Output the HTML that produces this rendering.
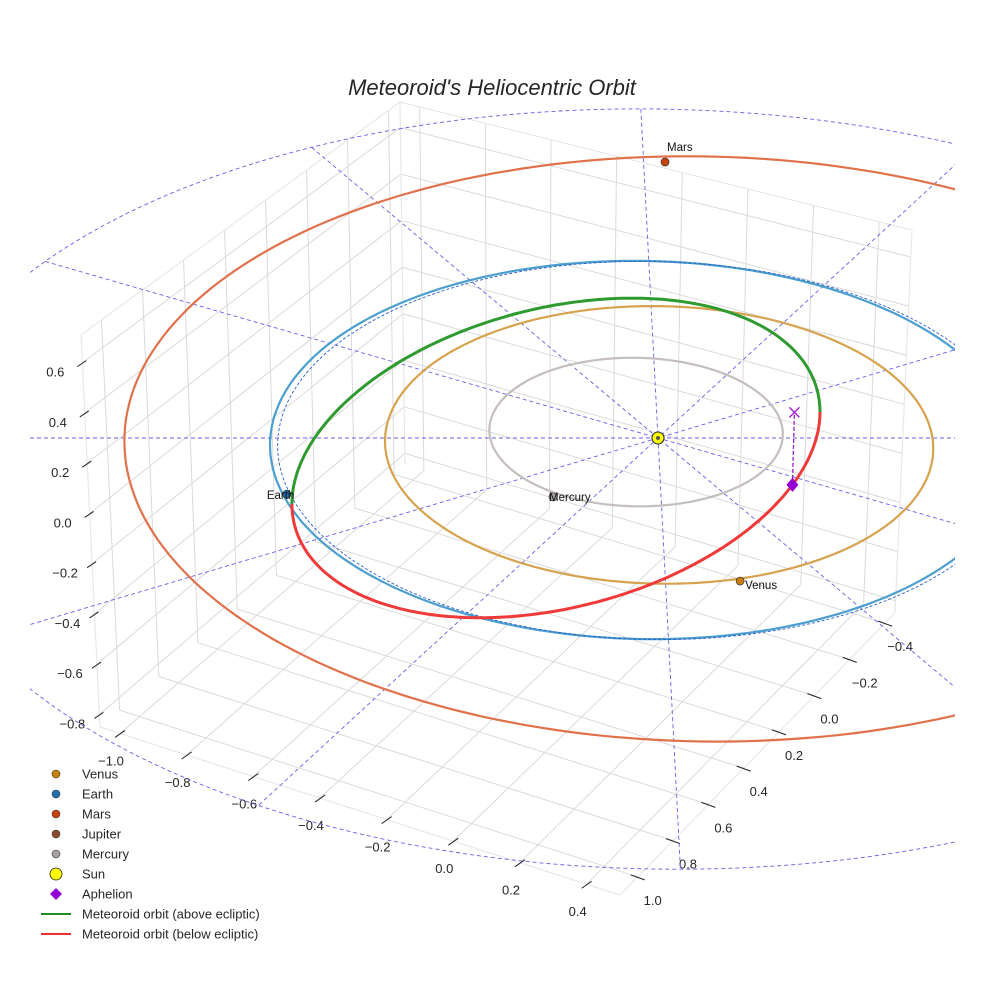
<!DOCTYPE html>
<html><head><meta charset="utf-8">
<style>
html,body{margin:0;padding:0;background:#fff;}
svg{display:block;font-family:"Liberation Sans",sans-serif;}
</style></head>
<body>
<svg id="chart" width="984" height="984" viewBox="0 0 984 984" xmlns="http://www.w3.org/2000/svg">
<defs>
<clipPath id="plotclip"><rect x="30" y="0" width="925" height="984"/></clipPath>
</defs>
<text x="492" y="95" text-anchor="middle" font-size="22" font-style="italic" fill="#262626">Meteoroid's Heliocentric Orbit</text>
<g id="grid"></g>
<g id="ticks"></g>
<g id="orbits" clip-path="url(#plotclip)"></g>
<g id="legend"></g>
</svg>
<script>
// ---- axis data ----
const xTicks = [-1.0, -0.8, -0.6, -0.4, -0.2, 0.0, 0.2, 0.4];
const yTicks = [-0.4, -0.2, 0.0, 0.2, 0.4, 0.6, 0.8, 1.0];
const zTicks = [-0.8, -0.6, -0.4, -0.2, 0.0, 0.2, 0.4, 0.6];
const xRange = [-1.06, 0.50];
const yRange = [-0.456, 1.10];
const zRange = [-0.85, 0.71];
// ---- orbit data (AU, ecliptic plane) ----
const orbitNames = ["Mercury", "Venus", "Earth", "Mars"];
const orbitRadius = [0.387, 0.723, 0.985, 1.524];
const orbitCenterX = [-0.057, 0.002, -0.04, 0.115];
const orbitCenterY = [0.031, -0.036, -0.0625, -0.057];
const orbitColors = ["#c4bebd", "#d6a24e", "#4b9fce", "#e0714b"];
const planetNames = ["Mars", "Earth", "Venus", "Mercury"];
const planetX = [0.0565, -0.987, 0.197, -0.285];
const planetY = [1.4375, -0.292, -0.745, -0.307];
const planetColors = ["#c8420e", "#1f6fb0", "#c97e0d", "#a8a09e"];
const refCircle = [-0.02, -0.065, 0.985];   // cx, cy, r
const outerCircle = [-0.007, -0.266, 1.98];
const radialAngles = [0, 30, 60, 90, 120, 150];
// meteoroid orbit: center, conjugate semi-axis vectors
const meteorCenter = [-0.272, -0.104];
const meteorU = [0.703, 0.2396];
const meteorV = [-0.021, -0.797];
const aphelionE = [0.461];
const aphelionZ = [-0.29];

const svg = document.getElementById('chart');
const NS = 'http://www.w3.org/2000/svg';
function mk(parent, tag, attrs){const e=document.createElementNS(NS,tag);for(const k in attrs)e.setAttribute(k,attrs[k]);parent.appendChild(e);return e;}

// ---- 3D box projection (trilinear between screen corners) ----
const C = {"000":[405,465],"100":[895,613],"010":[100,727],"110":[620,895],
           "001":[400,102],"101":[912,230],"011":[81,335],"111":[625,485]};
function P3(x,y,z){
  const u=(x-xRange[0])/(xRange[1]-xRange[0]), v=(y-yRange[0])/(yRange[1]-yRange[0]), w=(z-zRange[0])/(zRange[1]-zRange[0]);
  let X=0,Y=0;
  for(const i of [0,1])for(const j of [0,1])for(const k of [0,1]){
    const wt=(i?u:1-u)*(j?v:1-v)*(k?w:1-w); const c=C[""+i+j+k]; X+=wt*c[0]; Y+=wt*c[1];}
  return [X,Y];
}
// ---- ecliptic projection ----
function ex(x,y){return 658+379*x-10*y;}
function ey(x,y){return 438-192*y;}

const grid=document.getElementById('grid');
function gline(a,b,col,w){const l=mk(grid,'line',{x1:a[0],y1:a[1],x2:b[0],y2:b[1],stroke:col,'stroke-width':w});return l;}
const GC="#dadada";
for(const y of yTicks){const l=gline(P3(xRange[0],y,zRange[0]),P3(xRange[0],y,zRange[1]),GC,1);


const f=gline(P3(xRange[0],y,zRange[0]),P3(xRange[1],y,zRange[0]),GC,1);

}
for(const x of xTicks){const l=gline(P3(x,yRange[0],zRange[0]),P3(x,yRange[0],zRange[1]),GC,1);


const f=gline(P3(x,yRange[0],zRange[0]),P3(x,yRange[1],zRange[0]),GC,1);

}
for(const z of zTicks){const l=gline(P3(xRange[0],yRange[1],z),P3(xRange[0],yRange[0],z),GC,1);


const b=gline(P3(xRange[0],yRange[0],z),P3(xRange[1],yRange[0],z),GC,1);

}
const edges=[[[0,1,1],[0,0,1]],[[0,0,1],[1,0,1]],[[0,1,0],[0,1,1]],[[1,0,0],[1,0,1]],[[0,0,0],[0,0,1]],[[0,1,0],[1,1,0]],[[1,0,0],[1,1,0]]];
for(const e of edges){const f=c=>P3(xRange[c[0]],yRange[c[1]],zRange[c[2]]);
const l=gline(f(e[0]),f(e[1]),"#e8e8e8",1.2);

}

// ---- ticks ----
const tg=document.getElementById('ticks');
function fmt(v){return (v<0?"\u2212":"")+Math.abs(v).toFixed(1);}
for(const x of xTicks){const p=P3(x,yRange[1],zRange[0]);
const t=mk(tg,'line',{x1:p[0]-5,y1:p[1]+4,x2:p[0]+5,y2:p[1]-3,stroke:"#222","stroke-width":1});


const lb=mk(tg,'text',{x:p[0]-9,y:p[1]+32,"text-anchor":"middle","font-size":13,fill:"#262626"});lb.textContent=fmt(x);

}
for(const y of yTicks){const p=P3(xRange[1],y,zRange[0]);
const t=mk(tg,'line',{x1:p[0]-7,y1:p[1]-2,x2:p[0]+7,y2:p[1]+3,stroke:"#222","stroke-width":1});


const lb=mk(tg,'text',{x:p[0]+15,y:p[1]+28,"text-anchor":"middle","font-size":13,fill:"#262626"});lb.textContent=fmt(y);

}
for(const z of zTicks){const p=P3(xRange[0],yRange[1],z);
const t=mk(tg,'line',{x1:p[0]-5,y1:p[1]+4,x2:p[0]+4,y2:p[1]-2,stroke:"#222","stroke-width":1});


const lb=mk(tg,'text',{x:p[0]-27,y:p[1]+14,"text-anchor":"middle","font-size":13,fill:"#262626"});lb.textContent=fmt(z);

}

// ---- orbits ----
const og=document.getElementById('orbits');
function circlePath(cx,cy,r,t0,t1,n){let d="";for(let i=0;i<=n;i++){const t=t0+(t1-t0)*i/n;const x=cx+r*Math.cos(t),y=cy+r*Math.sin(t);d+=(i?"L":"M")+ex(x,y).toFixed(1)+","+ey(x,y).toFixed(1);}return d;}
const oc=mk(og,'path',{d:circlePath(outerCircle[0],outerCircle[1],outerCircle[2],0,2*Math.PI,240),fill:"none",stroke:"#6a5ee8","stroke-width":0.9,"stroke-dasharray":"4,3"});


for(const a of radialAngles){const c=Math.cos(a*Math.PI/180),s=Math.sin(a*Math.PI/180);
 const pts=[];for(const sg of [1,-1]){const dx=sg*c,dy=sg*s;const ox=-outerCircle[0],oy=-outerCircle[1],R=outerCircle[2];
 const b=2*(ox*dx+oy*dy),cc=ox*ox+oy*oy-R*R;const t=(-b+Math.sqrt(b*b-4*cc))/2;pts.push([t*dx,t*dy]);}
 const l=mk(og,'line',{x1:ex(pts[0][0],pts[0][1]),y1:ey(pts[0][0],pts[0][1]),x2:ex(pts[1][0],pts[1][1]),y2:ey(pts[1][0],pts[1][1]),stroke:"#6a5ee8","stroke-width":0.9,"stroke-dasharray":"4,3"});
 
 }
for(let i=0;i<orbitNames.length;i++){
 const p=mk(og,'path',{d:circlePath(orbitCenterX[i],orbitCenterY[i],orbitRadius[i],0,2*Math.PI,240),fill:"none",stroke:orbitColors[i],"stroke-width":2.2});
 
 }
const rc=mk(og,'path',{d:circlePath(refCircle[0],refCircle[1],refCircle[2],0,2*Math.PI,240),fill:"none",stroke:"#2a5cc8","stroke-width":0.9,"stroke-dasharray":"3,2"});


function mPath(e0,e1,n){let d="";for(let i=0;i<=n;i++){const E=e0+(e1-e0)*i/n;const x=meteorCenter[0]+Math.cos(E)*meteorU[0]+Math.sin(E)*meteorV[0];const y=meteorCenter[1]+Math.cos(E)*meteorU[1]+Math.sin(E)*meteorV[1];d+=(i?"L":"M")+ex(x,y).toFixed(1)+","+ey(x,y).toFixed(1);}return d;}
const mg=mk(og,'path',{d:mPath(Math.PI,2*Math.PI,160),fill:"none",stroke:"#2f9a2f","stroke-width":3});


const mr=mk(og,'path',{d:mPath(0,Math.PI,160),fill:"none",stroke:"#f03a3a","stroke-width":3});


{const E=aphelionE[0];const x=meteorCenter[0]+Math.cos(E)*meteorU[0]+Math.sin(E)*meteorV[0];const y=meteorCenter[1]+Math.cos(E)*meteorU[1]+Math.sin(E)*meteorV[1];
 const X=ex(x,y),Y=ey(x,y),Yp=Y+aphelionZ[0]*250;
 const dl=mk(og,'line',{x1:X,y1:Y,x2:X+2,y2:Yp,stroke:"#9a20c8","stroke-width":1.3,"stroke-dasharray":"4,2"});
 
 
 const xm=mk(og,'path',{d:`M${X-3},${Yp-5}L${X+7},${Yp+5}M${X+7},${Yp-5}L${X-3},${Yp+5}`,stroke:"#9a20c8","stroke-width":1.4,fill:"none"});
 
 
 const dm=mk(og,'path',{d:`M${X},${Y-7}L${X+6},${Y}L${X},${Y+7}L${X-6},${Y}Z`,fill:"#9400d3"});
 
 }
for(let i=0;i<planetNames.length;i++){const X=ex(planetX[i],planetY[i]),Y=ey(planetX[i],planetY[i]);
 const c=mk(og,'circle',{cx:X,cy:Y,r:4,fill:planetColors[i],stroke:"#333","stroke-width":0.7});
 
 
 const off={Mars:[2,-11,"start"],Earth:[-20,5,"start"],Venus:[5,8,"start"],Mercury:[-4,4,"start"]}[planetNames[i]];
 const t=mk(og,'text',{x:X+off[0],y:Y+off[1],"font-size":11.5,fill:"#111","text-anchor":off[2]});t.textContent=planetNames[i];
 
 }
{const s=mk(og,'circle',{cx:ex(0,0),cy:ey(0,0),r:6,fill:"#ffff00",stroke:"#222","stroke-width":1});
 
 
 const s2=mk(og,'circle',{cx:ex(0,0),cy:ey(0,0),r:2,fill:"#555"});
 
 }

// ---- legend ----
const lg=document.getElementById('legend');
const legendLabels=["Venus","Earth","Mars","Jupiter","Mercury","Sun","Aphelion","Meteoroid orbit (above ecliptic)","Meteoroid orbit (below ecliptic)"];
const legendColors=["#c97e0d","#1f6fb0","#c8420e","#8b4a2b","#a8a09e","#ffff00","#9400d3","#228b22","#f03030"];
const legendKinds=["dot","dot","dot","dot","dot","sun","diamond","line","line"];
for(let i=0;i<legendLabels.length;i++){const y=774+i*20;let m;
 if(legendKinds[i]==="dot")m=mk(lg,'circle',{cx:56,cy:y,r:4,fill:legendColors[i],stroke:"#333","stroke-width":0.6});
 else if(legendKinds[i]==="sun")m=mk(lg,'circle',{cx:56,cy:y,r:6,fill:legendColors[i],stroke:"#222","stroke-width":0.8});
 else if(legendKinds[i]==="diamond")m=mk(lg,'path',{d:`M56,${y-6}L62,${y}L56,${y+6}L50,${y}Z`,fill:legendColors[i]});
 else m=mk(lg,'line',{x1:41,y1:y,x2:71,y2:y,stroke:legendColors[i],"stroke-width":2});
 
 
 const t=mk(lg,'text',{x:82,y:y+4.5,"font-size":13,fill:"#262626"});t.textContent=legendLabels[i];
 
 }
</script>
</body></html>
